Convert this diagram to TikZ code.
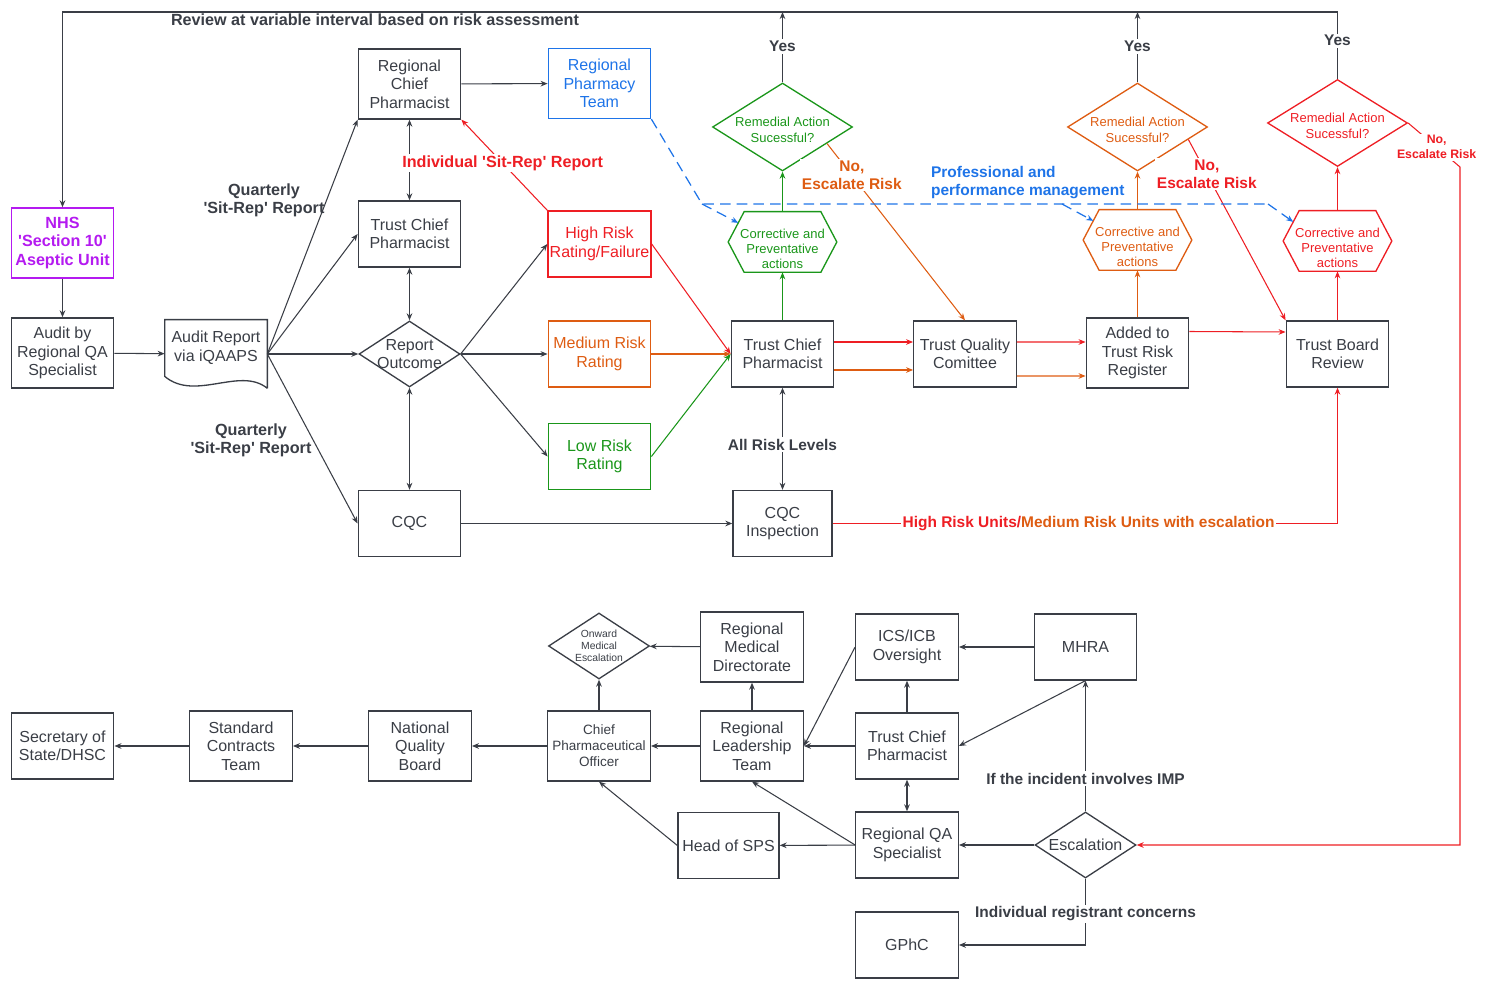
\documentclass[tikz,border=0pt]{standalone}
\usepackage{fontspec}
\setmainfont{Liberation Sans}
\usepackage{tikz}
\usetikzlibrary{arrows.meta,calc,shapes.geometric}

\definecolor{ink}{RGB}{58,62,70}
\definecolor{rred}{RGB}{238,30,36}
\definecolor{rorange}{RGB}{222,92,18}
\definecolor{rgreen}{RGB}{26,150,26}
\definecolor{rblue}{RGB}{30,116,232}
\definecolor{rpurple}{RGB}{180,26,240}

\newcommand{\sq}{\textquotesingle}

\tikzset{
  box/.style={draw=ink, line width=0.75pt, text=ink, align=center, inner sep=1pt,
    minimum width=2.05cm, minimum height=1.32cm, font=\fontsize{9.1}{10.5}\selectfont},
  tall/.style={minimum height=1.4cm},
  diam/.style 2 args={diamond, draw=ink, line width=0.75pt, inner sep=0pt,
    minimum width=#1, minimum height=#2},
  dtext/.style={align=center, inner sep=0pt, text=ink},
  rtext/.style={dtext, yshift=-0.06cm, font=\fontsize{7.4}{8.7}\selectfont},
  hexa/.style={inner sep=0pt, minimum width=2.16cm, minimum height=1.2cm},
  htext/.style={dtext, yshift=-0.14cm, font=\fontsize{7.4}{8.7}\selectfont},
  arr/.style={color=ink, line width=0.6pt, -{Stealth[length=4pt,width=3.2pt]}},
  darr/.style={color=ink, line width=0.6pt,
    {Stealth[length=4pt,width=3.2pt]}-{Stealth[length=4pt,width=3.2pt]}},
  lbl/.style={font=\bfseries\fontsize{8.8}{10.2}\selectfont, text=ink, fill=white,
    inner sep=1pt, align=center},
  biglbl/.style={lbl, font=\bfseries\fontsize{9.2}{10.4}\selectfont},
  bdash/.style={color=rblue, line width=0.7pt, dash pattern=on 6pt off 3.5pt},
}

\begin{document}
\begin{tikzpicture}[x=0.02cm, y=-0.02cm]
\useasboundingbox (0,0) rectangle (1489,989);

% upper part
\node[box, tall, draw=rpurple, text=rpurple, font=\bfseries\fontsize{9.2}{10.5}\selectfont] (nhs) at (62.5,243) {NHS\\\sq Section 10\sq\\Aseptic Unit};
\node[box, tall] (aud) at (62.5,353) {Audit by\\Regional QA\\Specialist};
\node[minimum width=2.04cm, minimum height=1.36cm, inner sep=0pt,
  label={[box, draw=none, minimum width=0pt, minimum height=0pt, yshift=0.13cm]center:Audit Report\\via iQAAPS}] (rep) at (216,354) {};
\node[box, tall] (rcp) at (409.5,84) {Regional\\Chief\\Pharmacist};
\node[box, tall, draw=rblue, text=rblue] (rpt) at (599.5,83.5) {Regional\\Pharmacy\\Team};
\node[box] (tcpa) at (409.5,234) {Trust Chief\\Pharmacist};
\node[diam={2.02cm}{1.32cm}, label={[dtext, font=\fontsize{9.1}{10.5}\selectfont]center:Report\\Outcome}] (ro) at (409.5,354) {};
\node[box, draw=rred, text=rred] (high) at (599.5,244) {High Risk\\Rating/Failure};
\node[box, draw=rorange, text=rorange] (med) at (599.5,354) {Medium Risk\\Rating};
\node[box, draw=rgreen, text=rgreen] (low) at (599.5,456.5) {Low Risk\\Rating};
\node[box] (cqc) at (409.5,523.5) {CQC};
\node[box] (tcpb) at (782.5,354) {Trust Chief\\Pharmacist};
\node[box, minimum width=1.98cm] (cqci) at (782.5,523.5) {CQC\\Inspection};
\node[hexa, label={[htext, text=rgreen]center:Corrective and\\Preventative\\actions}] (hexg) at (782.5,242) {};
\node[diam={2.8cm}{1.76cm}, draw=rgreen, label={[rtext, text=rgreen]center:Remedial Action\\Sucessful?}] (diag) at (782.5,127) {};
\node[box] (tqc) at (965,354) {Trust Quality\\Comittee};
\node[box, tall] (add) at (1137.5,353) {Added to\\Trust Risk\\Register};
\node[hexa, label={[htext, text=rorange]center:Corrective and\\Preventative\\actions}] (hexo) at (1137.5,240) {};
\node[diam={2.8cm}{1.76cm}, draw=rorange, label={[rtext, text=rorange]center:Remedial Action\\Sucessful?}] (diao) at (1137.5,127) {};
\node[box] (tbr) at (1337.5,354) {Trust Board\\Review};
\node[hexa, label={[htext, text=rred]center:Corrective and\\Preventative\\actions}] (hexr) at (1337.5,241) {};
\node[diam={2.8cm}{1.74cm}, draw=rred, label={[rtext, text=rred]center:Remedial Action\\Sucessful?}] (diar) at (1337.5,123) {};

% lower part
\node[box] (sos) at (62.5,746) {Secretary of\\State/DHSC};
\node[box, tall] (sct) at (241,746) {Standard\\Contracts\\Team};
\node[box, tall] (nqb) at (420,746) {National\\Quality\\Board};
\node[box, tall, font=\fontsize{7.7}{9.2}\selectfont] (cpo) at (599,746) {Chief\\Pharmaceutical\\Officer};
\node[box, tall] (rlt) at (752,746) {Regional\\Leadership\\Team};
\node[box, tall] (rmd) at (752,647) {Regional\\Medical\\Directorate};
\node[diam={2.02cm}{1.32cm}, label={[dtext, font=\fontsize{5.9}{6.9}\selectfont]center:Onward\\Medical\\Escalation}] (ome) at (599,646) {};
\node[box, minimum width=2.02cm] (hos) at (728.5,845.5) {Head of SPS};
\node[box] (ics) at (907,647) {ICS/ICB\\Oversight};
\node[box] (mhra) at (1085.5,647) {MHRA};
\node[box] (tcpc) at (907,746) {Trust Chief\\Pharmacist};
\node[box] (rqa) at (907,845) {Regional QA\\Specialist};
\node[diam={2.02cm}{1.32cm}, label={[dtext, font=\fontsize{9.1}{10.5}\selectfont]center:Escalation}] (esc) at (1085.5,845) {};
\node[box] (gphc) at (907,945) {GPhC};

% document outline and hexagons
\draw[ink, line width=0.75pt] (rep.south east) -- (rep.north east) -- (rep.north west) -- ([yshift=0.24cm]rep.south west)
  .. controls (195,402) and (240,366) .. (rep.south east);
\foreach \h/\c in {hexg/rgreen, hexo/rorange, hexr/rred}
  \draw[\c, line width=0.75pt] (\h.west) -- ([xshift=0.32cm]\h.north west) -- ([xshift=-0.32cm]\h.north east)
    -- (\h.east) -- ([xshift=-0.32cm]\h.south east) -- ([xshift=0.32cm]\h.south west) -- cycle;

\coordinate (topL) at (62.5,12);
\coordinate (rbend) at (1460,167);
\coordinate (bl1) at (702,204);
\coordinate (bl2) at (1062,204);
\coordinate (bl3) at (1268,204);

\node[biglbl, fill=none] (review) at (375,20) {Review at variable interval based on risk assessment};
\node[biglbl, fill=none] (qtop) at (264,200) {Quarterly\\\sq Sit-Rep\sq{} Report};
\node[biglbl, fill=none] (qbot) at (251,440) {Quarterly\\\sq Sit-Rep\sq{} Report};
\node[lbl, fill=none, text=rblue, align=left, anchor=west] (ppm) at (929,182.5) {Professional and\\performance management};

\draw[arr] (nhs) -- (aud);
\draw[arr] (aud) -- (rep);
\draw[arr] (rep.east) -- (rcp.south west);
\draw[arr] (rep.east) -- (tcpa.west);
\draw[arr] (rep.east) -- (ro.west);
\draw[arr] (rep.east) -- (cqc.west);
\draw[arr] (rcp) -- (rpt);
\draw[darr] (rcp) -- (tcpa);
\draw[darr] (tcpa) -- (ro);
\draw[darr] (ro) -- (cqc);
\draw[arr] (ro.east) -- (high.west);
\draw[arr] (ro.east) -- (med.west);
\draw[arr] (ro.east) -- (low.west);
\draw[arr, rred] (high.north west) -- node[biglbl, text=rred, pos=0.52] (sitrep) {Individual \sq Sit-Rep\sq{} Report} (rcp.south east);
\draw[arr, rred] (high.east) -- (tcpb.west);
\draw[arr, rorange] (med) -- (tcpb);
\draw[arr, rgreen] (low.east) -- (tcpb.west);
\draw[arr] (cqc) -- (cqci);
\draw[darr] (tcpb) -- node[lbl, pos=0.56] (allrisk) {All Risk Levels} (cqci);
\draw[arr, rred] (cqci.east) -- node[lbl, pos=0.507] (hru) {\textcolor{rred}{High Risk Units/}\textcolor{rorange}{Medium Risk Units with escalation}} (cqci.east -| tbr.south) -- (tbr.south);

% green, orange and red chains
\draw[arr, rgreen] (tcpb) -- (hexg);
\draw[arr, rgreen] (hexg) -- (diag);
\draw[arr] (diag.north) -- node[lbl, pos=0.51] (yesg) {Yes} (diag.north |- topL);
\draw[arr, rorange] ($(diag.east)!0.37!(diag.south)$) -- node[lbl, text=rorange, pos=0.18] (nog) {No,\\Escalate Risk} (tqc.north);
\draw[arr, rred] ([yshift=0.24cm]tcpb.east) -- ([yshift=0.24cm]tqc.west);
\draw[arr, rorange] ([yshift=-0.32cm]tcpb.east) -- ([yshift=-0.32cm]tqc.west);
\draw[arr, rred] ([yshift=0.24cm]tqc.east) -- ([yshift=0.22cm]add.west);
\draw[arr, rorange] ([yshift=-0.44cm]tqc.east) -- ([yshift=-0.46cm]add.west);
\draw[arr, rred] ([yshift=0.43cm]add.east) -- ([yshift=0.44cm]tbr.west);
\draw[arr, rorange] (add) -- (hexo);
\draw[arr, rorange] (hexo) -- (diao);
\draw[arr] (diao.north) -- node[lbl, pos=0.51] (yeso) {Yes} (diao.north |- topL);
\draw[arr, rred] ($(diao.east)!0.28!(diao.south)$) -- node[lbl, text=rred, pos=0.19] (noo) {No,\\Escalate Risk} (tbr.north west);
\draw[arr, rred] (tbr) -- (hexr);
\draw[arr, rred] (hexr) -- (diar);
\draw[arr] (diar.north) -- node[lbl, pos=0.57] (yesr) {Yes} (diar.north |- topL) -- (topL) -- (nhs.north);
\draw[arr, rred] (diar.east) -- node[lbl, text=rred, pos=0.55, font=\bfseries\fontsize{7}{8.4}\selectfont] (nor) {No,\\Escalate Risk} (rbend) -- (rbend |- esc.east) -- (esc.east);

% professional and performance management
\draw[bdash] (rpt.south east) -- (bl1) -- (bl3);
\draw[bdash, -{Stealth[length=4pt,width=3.2pt]}] (bl1) -- ($([xshift=0.32cm]hexg.north west)!0.37!(hexg.west)$);
\draw[bdash, -{Stealth[length=4pt,width=3.2pt]}] (bl2) -- ($([xshift=0.32cm]hexo.north west)!0.37!(hexo.west)$);
\draw[bdash, -{Stealth[length=4pt,width=3.2pt]}] (bl3) -- ($([xshift=0.32cm]hexr.north west)!0.37!(hexr.west)$);

% lower connectors
\draw[arr] (rlt) -- (cpo);
\draw[arr] (cpo) -- (nqb);
\draw[arr] (nqb) -- (sct);
\draw[arr] (sct) -- (sos);
\draw[arr] (rlt) -- (rmd);
\draw[arr] (rmd) -- (ome);
\draw[arr] (cpo) -- (ome);
\draw[arr] (hos.west) -- (cpo.south);
\draw[arr] (rqa.west) -- (rlt.south);
\draw[arr] (rqa) -- (hos);
\draw[arr] (ics.west) -- (rlt.east);
\draw[arr] (tcpc) -- (rlt);
\draw[arr] (tcpc) -- (ics);
\draw[arr] (mhra) -- (ics);
\draw[arr] (mhra.south) -- (tcpc.east);
\draw[darr] (tcpc) -- (rqa);
\draw[arr] (esc.north) -- node[lbl, pos=0.25] (imp) {If the incident involves IMP} (mhra.south);
\draw[arr] (esc) -- (rqa);
\draw[arr] (esc.south) -- node[lbl, pos=0.53] (irc) {Individual registrant concerns} (esc.south |- gphc.east) -- (gphc.east);
\end{tikzpicture}
\end{document}
